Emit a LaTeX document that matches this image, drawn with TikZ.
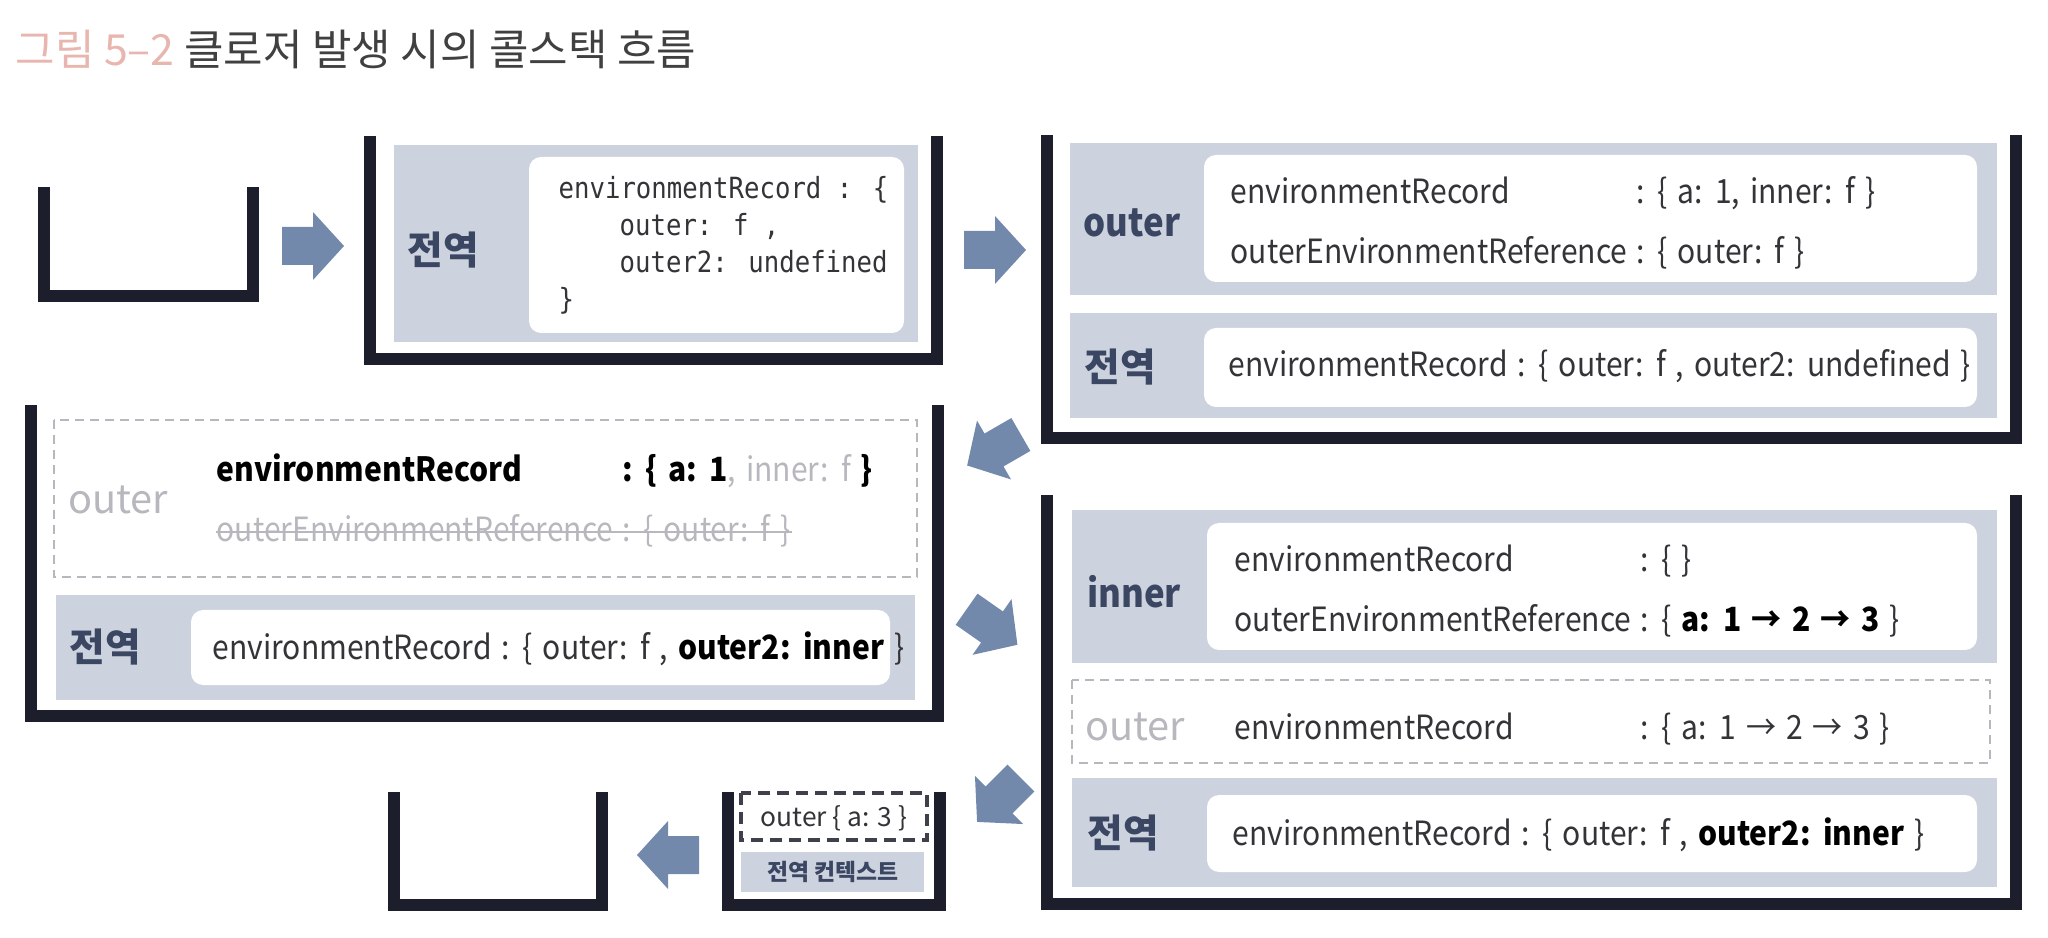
\documentclass[tikz,border=0pt]{standalone}
\usepackage{fontspec}
\setmainfont{Noto Sans CJK KR}
\newfontfamily\bodyfont{Noto Sans CJK KR}[FakeStretch=0.9, WordSpace=1.5]
\newfontfamily\codefont{DejaVu Sans Mono}[FakeStretch=0.88]
\usepackage{tikz}
\usetikzlibrary{calc}

\definecolor{wall}{RGB}{28,30,44}
\definecolor{panel}{RGB}{204,210,222}
\definecolor{tagblue}{RGB}{58,70,98}
\definecolor{flow}{RGB}{115,137,172}
\definecolor{ink}{RGB}{52,52,56}
\definecolor{faded}{RGB}{182,184,190}
\definecolor{titlepink}{RGB}{232,182,174}

\tikzset{
  flowarrow/.pic={\fill[flow] (-31,-19) -- (0,-19) -- (0,-34) -- (31,0) -- (0,34) -- (0,19) -- (-31,19) -- cycle;}
}

\begin{document}
\begin{tikzpicture}[x=0.1mm, y=-0.1mm,
    stackwall/.style={draw=wall, line width=1.2mm, line join=miter},
    panelbox/.style={fill=panel},
    card/.style={fill=white, rounded corners=1.2mm},
    gone/.style={draw=faded, dash pattern=on 0.9mm off 0.6mm, line width=0.25mm},
    tag/.style={inner sep=0pt, font=\fontsize{11}{12}\selectfont\bfseries, text=tagblue},
    fntag/.style={inner sep=0pt, font=\bodyfont\fontsize{11}{12}\selectfont\bfseries, text=tagblue},
    body/.style={anchor=base west, inner sep=0pt, font=\bodyfont\fontsize{9.5}{11}\selectfont, text=ink},
    code/.style={anchor=base west, inner sep=0pt, font=\codefont\fontsize{8.3}{10}\selectfont, text=ink}]
    \useasboundingbox (0,0) rectangle (2048,938);

    \node[anchor=west, inner sep=0pt, font=\fontsize{12.2}{14}\selectfont, text=black!75] (title) at (15,49)
        {\textcolor{titlepink}{그림 5–2} 클로저 발생 시의 콜스택 흐름};

    % empty stack
    \draw[stackwall] (44,187) -- (44,296) -- (253,296) -- (253,187);
    \pic at (313,246) {flowarrow};

    % global context only
    \fill[panelbox] (394,145) rectangle (918,342);
    \fill[card] (529,157) rectangle (904,333);
    \draw[stackwall] (370,136) -- (370,359) -- (937,359) -- (937,136);
    \node[tag] (g1) at (443,250) {전역};
    \node[code] (c1a) at (558,199) {environmentRecord : \{};
    \node[code] (c1b) at (619,236) {outer: f ,};
    \node[code] (c1c) at (619,273) {outer2: undefined};
    \node[code] (c1d) at (558,310) {\}};
    \pic at (995,250) {flowarrow};

    % outer on top
    \fill[panelbox] (1070,143) rectangle (1997,295);
    \fill[card] (1204,155) rectangle (1977,282);
    \fill[panelbox] (1070,313) rectangle (1997,418);
    \fill[card] (1204,328) rectangle (1977,407);
    \draw[stackwall] (1047,135) -- (1047,438) -- (2016,438) -- (2016,135);
    \node[fntag] (o2) at (1132,223) {outer};
    \node[body] (o2k1) at (1230,204) {environmentRecord};
    \node[body] (o2v1) at (1636,204) {: \{ a: 1, inner: f \}};
    \node[body] (o2k2) at (1230,264) {outerEnvironmentReference};
    \node[body] (o2v2) at (1636,264) {: \{ outer: f \}};
    \node[tag] (g2) at (1120,367) {전역};
    \node[body] (g2r) at (1228,377) {environmentRecord : \{ outer: f , outer2: undefined \}};
    \pic[rotate=210] at (994,450) {flowarrow};

    % outer popped
    \draw[gone] (54,420) rectangle (917,577);
    \fill[panelbox] (56,595) rectangle (915,700);
    \fill[card] (191,610) rectangle (890,685);
    \draw[stackwall] (31,405) -- (31,716) -- (938,716) -- (938,405);
    \node[tag, font=\fontsize{11.3}{12}\selectfont, text=faded] (o3) at (118,500) {outer};
    \node[body, text=black] (o3k1) at (216,482) {\bfseries environmentRecord};
    \node[body, text=black] (o3v1) at (622,482) {\textbf{: \{ a: 1}\textcolor{faded}{, inner: f }\textbf{\}}};
    \node[body, text=faded] (o3k2) at (216,542) {outerEnvironmentReference};
    \node[body, text=faded] (o3v2) at (622,542) {: \{ outer: f \}};
    \draw[faded, line width=0.25mm] ($(o3k2.base west)+(0,-10)$) -- ($(o3v2.base east)+(0,-10)$);
    \node[tag] (g3) at (105,647) {전역};
    \node[body] (g3r) at (212,659) {environmentRecord : \{ outer: f , \textbf{\color{black}outer2: inner} \}};
    \pic[rotate=-35] at (992,627) {flowarrow};

    % inner on top
    \fill[panelbox] (1072,510) rectangle (1997,663);
    \fill[card] (1207,523) rectangle (1977,650);
    \draw[gone] (1072,680) rectangle (1990,763);
    \fill[panelbox] (1072,778) rectangle (1997,887);
    \fill[card] (1207,795) rectangle (1977,872);
    \draw[stackwall] (1047,495) -- (1047,904) -- (2016,904) -- (2016,495);
    \node[fntag] (i4) at (1134,592) {inner};
    \node[body] (i4k1) at (1234,572) {environmentRecord};
    \node[body] (i4v1) at (1640,572) {: \{ \}};
    \node[body] (i4k2) at (1234,632) {outerEnvironmentReference};
    \node[body] (i4v2) at (1640,632) {: \{ \textbf{\color{black}a: 1 → 2 → 3} \}};
    \node[tag, font=\fontsize{11.3}{12}\selectfont, text=faded] (o4) at (1135,727) {outer};
    \node[body] (o4k1) at (1234,739) {environmentRecord};
    \node[body] (o4v1) at (1640,739) {: \{ a: 1 → 2 → 3 \}};
    \node[tag] (g4) at (1123,833) {전역};
    \node[body] (g4r) at (1232,845) {environmentRecord : \{ outer: f , \textbf{\color{black}outer2: inner} \}};
    \pic[rotate=225] at (999,800) {flowarrow};

    % closure kept
    \draw[wall!85, dash pattern=on 1.2mm off 0.7mm, line width=0.35mm] (741,793) rectangle (927,840);
    \fill[panelbox] (741,852) rectangle (924,892);
    \draw[stackwall] (728,792) -- (728,905) -- (940,905) -- (940,792);
    \node[inner sep=0pt, font=\fontsize{7.5}{9}\selectfont, text=ink] (o5) at (834,818) {outer \{ a: 3 \}};
    \node[tag, font=\fontsize{6.5}{8}\selectfont\bfseries] (g5) at (833,872) {전역 컨텍스트};
    \pic[rotate=180] at (668,855) {flowarrow};

    % empty again
    \draw[stackwall] (394,792) -- (394,905) -- (602,905) -- (602,792);
\end{tikzpicture}
\end{document}
